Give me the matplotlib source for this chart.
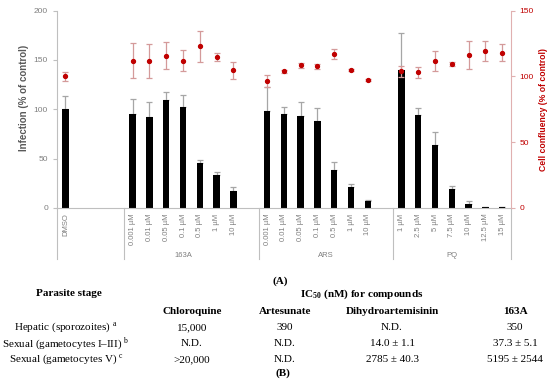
import numpy as np
import matplotlib
matplotlib.use("Agg")
import matplotlib.pyplot as plt

plt.rcParams['mathtext.fontset'] = 'custom'
plt.rcParams['mathtext.rm'] = 'Liberation Serif'
plt.rcParams['mathtext.bf'] = 'Liberation Serif:bold'

nan = np.nan
# ---- data (27 category slots, blanks are spacer slots) ----
tick_labels = ["DMSO", "", "", "",
               "0.001 µM", "0.01 µM", "0.05 µM", "0.1 µM", "0.5 µM", "1 µM", "10 µM", "",
               "0.001 µM", "0.01 µM", "0.05 µM", "0.1 µM", "0.5 µM", "1 µM", "10 µM", "",
               "1 µM", "2.5 µM", "5 µM", "7.5 µM", "10 µM", "12.5 µM", "15 µM"]
groups = ["163A", "ARS", "PQ"]

infection = [100, nan, nan, nan,
             95.3, 91.7, 109, 101.8, 45.3, 33.5, 17, nan,
             98.4, 94.7, 93, 88.6, 38.9, 21.3, 6.8, nan,
             139.7, 93.7, 63.9, 19, 4, 0.6, 1]
infection_err = [13, nan, nan, nan,
                 14.7, 15.3, 8, 12.2, 3.4, 2.5, 4, nan,
                 24.3, 7.7, 13.9, 12.2, 8.1, 3.4, 1, nan,
                 37.5, 7.1, 12.6, 3.7, 3.5, 0.3, 0.5]

confluency = [100, nan, nan, nan,
              112, 111.3, 115.6, 112, 122.7, 114.6, 104.5, nan,
              96.6, 103.7, 108.3, 107.5, 116.6, 104.5, 97.3, nan,
              104, 103, 111.6, 109.5, 116.1, 119.4, 117.9]
confluency_err = [3.5, nan, nan, nan,
                  13, 12.9, 10.2, 8, 12, 3.3, 6.3, nan,
                  4.5, 1.3, 2.2, 2.2, 3.8, 0.8, 1.0, nan,
                  4.2, 4.4, 7.3, 1.5, 10.6, 7.6, 6.5]

table_cols = ["Chloroquine", "Artesunate", "Dihydroartemisinin", "163A"]
table_rows = [r"Hepatic (sporozoites) $^{\rm a}$",
              r"Sexual (gametocytes I–III) $^{\rm b}$",
              r"Sexual (gametocytes V) $^{\rm c}$"]
table_vals = [["15,000", "390", "N.D.", "350"],
              ["N.D.", "N.D.", "14.0 ± 1.1", "37.3 ± 5.1"],
              [">20,000", "N.D.", "2785 ± 40.3", "5195 ± 2544"]]

W, H = 550, 381
fig = plt.figure(figsize=(W / 100, H / 100), dpi=100)

def fx(x):
    return x / W

def fy(y):
    return 1 - y / H

ax_l, ax_r, ax_t, ax_b = 57, 510.7, 10.5, 208
ax = fig.add_axes([fx(ax_l), fy(ax_b), fx(ax_r - ax_l), (ax_b - ax_t) / H])
x = np.arange(len(tick_labels))
inf = np.array(infection, dtype=float)
inf_e = np.array(infection_err, dtype=float)
ax.bar(x, inf, width=0.38, color='black', zorder=2)
ax.errorbar(x, inf, yerr=[np.zeros_like(inf_e), inf_e], fmt='none',
            ecolor='#a6a6a6', elinewidth=0.9, capsize=2, capthick=0.9, zorder=1)
ax.set_xlim(-0.5, len(x) - 0.5)
ax.set_ylim(0, 200)
ax.set_yticks([0, 50, 100, 150, 200])
ax.set_xticks(x)
ax.set_xticklabels(tick_labels, rotation=90, fontsize=5.5, color='#7f7f7f',
                   family='Liberation Sans', va='top')
ax.tick_params(axis='x', length=0, pad=4)
ax.tick_params(axis='y', labelsize=6, labelcolor='#7f7f7f', color='#bfbfbf',
               length=3, width=0.8)
for lab in ax.get_yticklabels():
    lab.set_family('Liberation Sans')
ax.set_ylabel("Infection (% of control)", fontsize=7, fontweight='bold',
              color='#595959', family='Liberation Sans')
ax.yaxis.set_label_coords(-0.061, 0.56)
for s in ['top', 'right']:
    ax.spines[s].set_visible(False)
for s in ['left', 'bottom']:
    ax.spines[s].set_color('#bfbfbf')
    ax.spines[s].set_linewidth(0.8)

ax2 = ax.twinx()
conf = np.array(confluency, dtype=float)
conf_e = np.array(confluency_err, dtype=float)
ax2.errorbar(x, conf, yerr=conf_e, fmt='o', color='#c00000', ms=2.8,
             ecolor='#d49a9a', elinewidth=0.9, capsize=2, capthick=0.9)
ax2.set_ylim(0, 150)
ax2.set_yticks([0, 50, 100, 150])
ax2.tick_params(axis='y', labelsize=6, labelcolor='#c00000', color='#e0b0b0',
                length=3, width=0.8)
for lab in ax2.get_yticklabels():
    lab.set_family('Liberation Sans')
ax2.set_ylabel("Cell confluency (% of control)", fontsize=6.2, fontweight='bold',
               color='#c00000', family='Liberation Sans')
ax2.yaxis.set_label_coords(1.063, 0.5)
for s in ['top', 'left', 'bottom']:
    ax2.spines[s].set_visible(False)
ax2.spines['right'].set_color('#e0b0b0')
ax2.spines['right'].set_linewidth(0.8)

# group separators below the axis
trans = ax.get_xaxis_transform()
for sx in [-0.5, 3.5, 11.5, 19.5, len(x) - 0.5]:
    ax.plot([sx, sx], [0, -0.258], transform=trans, clip_on=False,
            color='#bfbfbf', lw=0.8)
for gx, g in zip([7, 15.5, 23], groups):
    ax.text(gx, -0.243, g, transform=trans, ha='center', va='center',
            fontsize=5.5, color='#7f7f7f', family='Liberation Sans')

serif = 'Liberation Serif'
fs = 8
fig.text(fx(280), fy(281), "(A)", ha='center', va='center', fontsize=fs,
         family=serif, fontweight='bold')
fig.text(fx(69), fy(294), "Parasite stage", ha='center', va='center',
         fontsize=fs, family=serif, fontweight='bold')
fig.text(fx(362), fy(294), r"IC$_{\mathbf{50}}$ (nM) for compounds",
         ha='center', va='center', fontsize=fs, family=serif, fontweight='bold')
col_x = [192, 285, 392, 515]
for cx, c in zip(col_x, table_cols):
    fig.text(fx(cx), fy(311), c, ha='center', va='center', fontsize=fs,
             family=serif, fontweight='bold')
row_y = [327.5, 343.5, 359.5]
for ry, r, vals in zip(row_y, table_rows, table_vals):
    fig.text(fx(66), fy(ry), r, ha='center', va='center', fontsize=fs,
             family=serif)
    for cx, v in zip(col_x, vals):
        fig.text(fx(cx), fy(ry), v, ha='center', va='center', fontsize=fs,
                 family=serif)
fig.text(fx(283), fy(373.5), "(B)", ha='center', va='center', fontsize=fs,
         family=serif, fontweight='bold')

fig.savefig("out.png", dpi=100)
